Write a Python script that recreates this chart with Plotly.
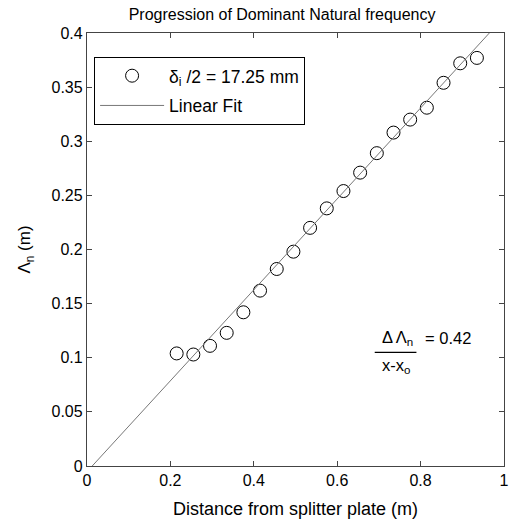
import numpy as np
import plotly.graph_objects as go

# Data
distance_m = [0.215, 0.255, 0.295, 0.335, 0.375, 0.415, 0.455, 0.495, 0.535, 0.575,
              0.615, 0.655, 0.695, 0.735, 0.775, 0.815, 0.855, 0.895, 0.935]
wavelength_m = [0.104, 0.103, 0.111, 0.123, 0.142, 0.162, 0.182, 0.198, 0.220, 0.238,
                0.254, 0.271, 0.289, 0.308, 0.320, 0.331, 0.354, 0.372, 0.377]
fit_slope = 0.42
fit_x0 = 0.0125
fit_x = [fit_x0, 1.0]
fit_y = [fit_slope * (x - fit_x0) for x in fit_x]

x_ticks = [0, 0.2, 0.4, 0.6, 0.8, 1]
x_ticktext = ["0", "0.2", "0.4", "0.6", "0.8", "1"]
y_ticks = [0, 0.05, 0.1, 0.15, 0.2, 0.25, 0.3, 0.35, 0.4]
y_ticktext = ["0", "0.05", "0.1", "0.15", "0.2", "0.25", "0.3", "0.35", "0.4"]

FONT = "Liberation Sans, Arial, Helvetica, sans-serif"

fig = go.Figure()
fig.add_trace(go.Scatter(
    x=distance_m, y=wavelength_m, mode="markers",
    name="δ<sub>i</sub> /2 = 17.25 mm",
    marker=dict(symbol="circle-open", size=13, color="black", line=dict(width=1)),
    legendgroup="a",
))
fig.add_trace(go.Scatter(
    x=fit_x, y=fit_y, mode="lines", name="Linear Fit",
    line=dict(color="#777777", width=1),
    legendgroup="b",
))

axis_common = dict(
    showgrid=False, zeroline=False, showline=True, linecolor="#444444", linewidth=1.3,
    mirror="ticks", ticks="inside", ticklen=5, tickcolor="#444444", tickwidth=1,
    tickfont=dict(family=FONT, size=16, color="black"),
    ticklabeloverflow="allow",
)

fig.update_layout(
    width=511, height=523,
    margin=dict(l=87, r=2, t=33, b=57),
    paper_bgcolor="white", plot_bgcolor="white",
    font=dict(family=FONT, color="black"),
    showlegend=True,
    legend=dict(
        x=0.017, y=0.945, xanchor="left", yanchor="top",
        bordercolor="black", borderwidth=1, bgcolor="white",
        font=dict(family=FONT, size=17.5, color="black"),
        tracegroupgap=4, itemwidth=64,
    ),
    xaxis=dict(range=[0, 1], tickvals=x_ticks, ticktext=x_ticktext,
               title=dict(text="Distance from splitter plate (m)",
                          font=dict(family=FONT, size=18), standoff=14),
               **axis_common),
    yaxis=dict(range=[0, 0.4], tickvals=y_ticks, ticktext=y_ticktext,
               title=dict(text="Λ<sub>n</sub> (m)", font=dict(family=FONT, size=17),
                          standoff=16),
               **axis_common),
    title=dict(text="Progression of Dominant Natural frequency",
               x=0.552, xanchor="center", y=0.972, yanchor="middle",
               font=dict(family=FONT, size=16, color="black")),
)

# Slope annotation (fraction)
ann_font = dict(family=FONT, size=16.5)
fig.add_annotation(x=0.745, y=0.118, xref="x", yref="y", text="Δ Λ<sub>n</sub>",
                   showarrow=False, font=ann_font, xanchor="center")
fig.add_annotation(x=0.805, y=0.118, xref="x", yref="y", text="= 0.42",
                   showarrow=False, font=ann_font, xanchor="left")
fig.add_annotation(x=0.742, y=0.092, xref="x", yref="y", text="x-x<sub>o</sub>",
                   showarrow=False, font=ann_font, xanchor="center")
fig.add_shape(type="line", xref="x", yref="y", x0=0.69, x1=0.79, y0=0.105, y1=0.105,
              line=dict(color="black", width=1.3))

fig.write_html("out.html")
